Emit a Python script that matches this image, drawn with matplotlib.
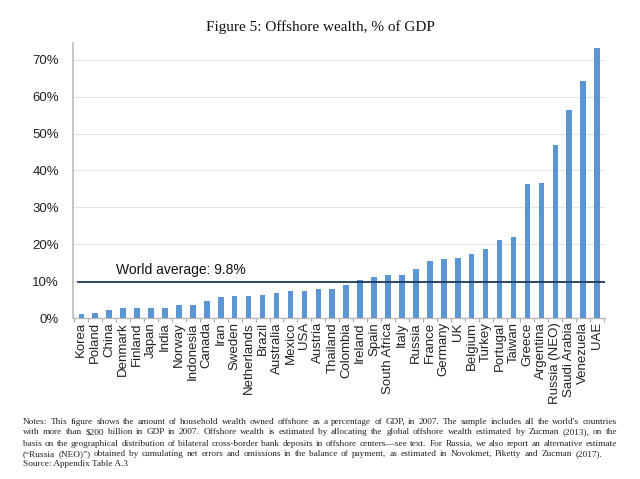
import matplotlib
matplotlib.use("Agg")
import matplotlib.pyplot as plt
import numpy as np
from matplotlib.ticker import FuncFormatter, FixedLocator

plt.rcParams["font.family"] = ["Liberation Sans", "DejaVu Sans"]

countries = ["Korea", "Poland", "China", "Denmark", "Finland", "Japan", "India",
             "Norway", "Indonesia", "Canada", "Iran", "Sweden", "Netherlands",
             "Brazil", "Australia", "Mexico", "USA", "Austria", "Thailand",
             "Colombia", "Ireland", "Spain", "South Africa", "Italy", "Russia",
             "France", "Germany", "UK", "Belgium", "Turkey", "Portugal", "Taiwan",
             "Greece", "Argentina", "Russia (NEO)", "Saudi Arabia", "Venezuela", "UAE"]
values = [1.2, 1.5, 2.3, 2.7, 2.8, 2.8, 2.8, 3.5, 3.6, 4.7, 5.6, 5.9, 6.1,
          6.3, 6.8, 7.2, 7.4, 8.0, 8.0, 9.0, 10.2, 11.1, 11.8, 11.8, 13.3,
          15.5, 16.1, 16.3, 17.4, 18.7, 21.2, 22.0, 36.2, 36.6, 47.0, 56.3, 64.2, 73.3]
world_average = 9.8
yticks = [0, 10, 20, 30, 40, 50, 60, 70]
title = "Figure 5: Offshore wealth, % of GDP"
notes = [
    "Notes: This figure shows the amount of household wealth owned offshore as a percentage of GDP, in 2007. The sample includes all the world's countries",
    "with more than $200 billion in GDP in 2007. Offshore wealth is estimated by allocating the global offshore wealth estimated by Zucman (2013), on the",
    "basis on the geographical distribution of bilateral cross-border bank deposits in offshore centers\u2014see text. For Russia, we also report an alternative estimate",
    "(\u201cRussia (NEO)\u201d) obtained by cumulating net errors and omissions in the balance of payment, as estimated in Novokmet, Piketty and Zucman (2017).",
    "Source: Appendix Table A.3",
]

fig = plt.figure(figsize=(6.4, 4.79), dpi=100)
ax = fig.add_axes([0.114, 0.336, 0.831, 0.574])

x = np.arange(len(countries))
ax.bar(x, values, width=0.4, color="#5B95D3", zorder=3)
ax.set_xlim(-0.6, len(countries) - 0.45)
ax.set_ylim(0, 74.5)

ax.set_yticks(yticks)
ax.yaxis.set_major_formatter(FuncFormatter(lambda v, p: f"{int(v)}%"))
ax.grid(axis="y", color="#e4e4e4", linewidth=0.8, zorder=0)
ax.tick_params(axis="y", length=0, labelsize=9.5, pad=10, labelcolor="#222222")

ax.set_xticks(x)
ax.set_xticklabels(countries, rotation=90, fontsize=9.5, color="#222222")
ax.tick_params(axis="x", which="major", length=0, pad=3)
ax.xaxis.set_minor_locator(FixedLocator(np.arange(len(countries) + 1) - 0.5))
ax.tick_params(axis="x", which="minor", length=3, color="#aaaaaa", width=0.8)

for s in ["top", "right"]:
    ax.spines[s].set_visible(False)
ax.spines["left"].set_color("#bbbbbb")
ax.spines["left"].set_linewidth(1.2)
ax.spines["bottom"].set_color("#bbbbbb")
ax.spines["bottom"].set_linewidth(1.0)

ax.plot([-0.25, len(countries) - 0.45], [world_average, world_average],
        color="#1F3A5C", linewidth=1.3, zorder=4)
ax.text(2.5, world_average + 2.2, f"World average: {world_average}%",
        fontsize=10, color="#111111", va="baseline", ha="left", zorder=5)

serif = ["Liberation Serif", "DejaVu Serif"]
fig.text(0.5, 0.944, title, ha="center", va="center", fontsize=11,
         family=serif, color="#111111")

# Notes with justified lines
fig.canvas.draw()
renderer = fig.canvas.get_renderer()
left_px, right_px = 23, 617
line_y = [421.5, 432.5, 443.5, 454.0, 464.5]

probe = fig.text(0, 0, notes[2], fontsize=7, family=serif)
pw = probe.get_window_extent(renderer).width
probe.remove()
nfs = 7 * (right_px - left_px) / pw * 0.985

for i, line in enumerate(notes):
    yy = 1 - line_y[i] / 479
    if i == 4:
        fig.text(left_px / 640, yy, line, fontsize=nfs, family=serif,
                 va="center", ha="left", color="#222222")
        continue
    words = line.split(" ")
    widths = []
    txts = []
    for w in words:
        t = fig.text(0, yy, w, fontsize=nfs, family=serif, va="center",
                     ha="left", color="#222222")
        bb = t.get_window_extent(renderer)
        widths.append(bb.width)
        txts.append(t)
    right = right_px if i < 3 else 602
    gap = (right - left_px - sum(widths)) / max(len(words) - 1, 1)
    pos = left_px
    for t, wd in zip(txts, widths):
        t.set_x(pos / 640)
        pos += wd + gap

fig.savefig("out.png", dpi=100)
